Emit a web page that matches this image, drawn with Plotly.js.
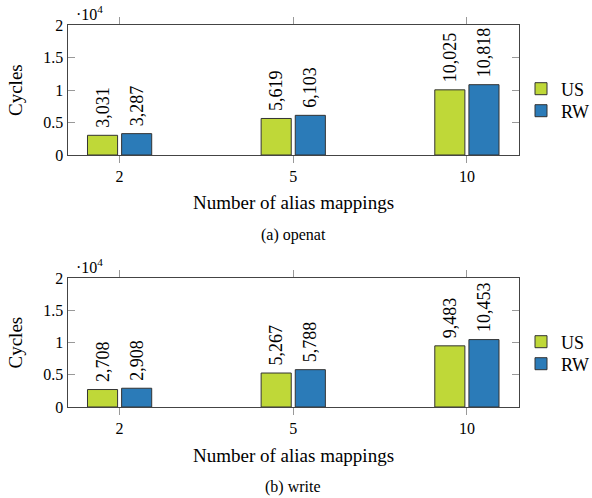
<!DOCTYPE html>
<html>
<head>
<meta charset="utf-8">
<script src="https://cdn.plot.ly/plotly-3.0.1.min.js"></script>
<style>html,body{margin:0;padding:0;background:#fff;}#chart{width:592px;height:498px;}</style>
</head>
<body>
<div id="chart"></div>
<script>
const categories = ['2', '5', '10'];
const openatUS = [3031, 5619, 10025];
const openatRW = [3287, 6103, 10818];
const writeUS = [2708, 5267, 9483];
const writeRW = [2908, 5788, 10453];
const seriesNames = ['US', 'RW'];
const yTickVals = [0, 5000, 10000, 15000, 20000];
const yTickText = ['0', '0.5', '1', '1.5', '2'];
const captions = ['(a) openat', '(b) write'];

const FONT = 'Liberation Serif';
const green = '#bfd838';
const blue = '#2b7bb8';

function barTrace(x, y, name, color, xa, ya, leg) {
  return {
    type: 'bar', x: x, y: y, name: name, xaxis: xa, yaxis: ya, legend: leg,
    showlegend: true,
    marker: {color: color, line: {color: '#333', width: 1}},
    text: y.map(v => '\u00a0' + v.toLocaleString('en-US')),
    textposition: 'outside', textangle: -90, constraintext: 'none',
    cliponaxis: false,
    textfont: {family: FONT, size: 18, color: '#000'},
    hoverinfo: 'skip'
  };
}

const data = [
  barTrace(categories, openatUS, seriesNames[0], green, 'x', 'y', 'legend'),
  barTrace(categories, openatRW, seriesNames[1], blue, 'x', 'y', 'legend2'),
  barTrace(categories, writeUS, seriesNames[0], green, 'x2', 'y2', 'legend3'),
  barTrace(categories, writeRW, seriesNames[1], blue, 'x2', 'y2', 'legend4')
];

const xdom = [67.5/592, 519/592];
const topDom = [1 - 155/498, 1 - 25/498];
const botDom = [1 - 407/498, 1 - 278/498];

function xaxis(anchor) {
  return {
    domain: xdom, anchor: anchor, type: 'category', categoryorder: 'array', categoryarray: categories,
    range: [-0.3, 2.3], autorange: false, showline: true, linecolor: '#444', linewidth: 1, mirror: 'ticks',
    ticks: 'outside', ticklen: 7, tickcolor: '#999', tickwidth: 1,
    tickfont: {family: FONT, size: 16, color: '#000'}, showgrid: false, zeroline: false, fixedrange: true
  };
}
function yaxis(anchor, dom) {
  return {
    domain: dom, anchor: anchor, range: [0, 20000], autorange: false, tickvals: yTickVals, ticktext: yTickText,
    showline: true, linecolor: '#444', linewidth: 1, mirror: 'ticks',
    ticks: 'inside', ticklen: 7, tickcolor: '#999', tickwidth: 1,
    tickfont: {family: FONT, size: 16, color: '#000'}, showgrid: false, zeroline: false, fixedrange: true
  };
}

function legend(yPx) {
  return {
    visible: true,
    x: 521/592, y: 1 - yPx/498, xanchor: 'left', yanchor: 'middle', bgcolor: 'rgba(0,0,0,0)',
    font: {family: FONT, size: 18, color: '#000'}, itemwidth: 30, tracegroupgap: 0
  };
}

const annotations = [];
[[topDom, captions[0]], [botDom, captions[1]]].forEach(([dom, cap]) => {
  const topPx = (1 - dom[1]) * 498;
  const botPx = (1 - dom[0]) * 498;
  annotations.push({xref: 'paper', yref: 'paper', x: 74/592, y: 1 - (topPx - 12)/498, text: '·10<sup>4</sup>', showarrow: false,
    xanchor: 'left', yanchor: 'middle', font: {family: FONT, size: 16, color: '#000'}});
  annotations.push({xref: 'paper', yref: 'paper', x: 15/592, y: (dom[0] + dom[1]) / 2, text: 'Cycles', textangle: -90, showarrow: false,
    xanchor: 'center', yanchor: 'middle', font: {family: FONT, size: 19, color: '#000'}});
  annotations.push({xref: 'paper', yref: 'paper', x: (xdom[0] + xdom[1]) / 2, y: 1 - (botPx + 48)/498, text: 'Number of alias mappings', showarrow: false,
    xanchor: 'center', yanchor: 'middle', font: {family: FONT, size: 19, color: '#000'}});
  annotations.push({xref: 'paper', yref: 'paper', x: (xdom[0] + xdom[1]) / 2, y: 1 - (botPx + 80)/498, text: cap, showarrow: false,
    xanchor: 'center', yanchor: 'middle', font: {family: FONT, size: 16, color: '#000'}});
});

const layout = {
  width: 592, height: 498, margin: {l: 0, r: 0, t: 0, b: 0, autoexpand: false},
  paper_bgcolor: '#fff', plot_bgcolor: '#fff',
  showlegend: true,
  barmode: 'group', bargap: 0.607, bargroupgap: 0.118,
  xaxis: xaxis('y'), yaxis: yaxis('x', topDom),
  xaxis2: xaxis('y2'), yaxis2: yaxis('x2', botDom),
  legend: legend(89), legend2: legend(111), legend3: legend(342), legend4: legend(364),
  annotations: annotations,
  font: {family: FONT}
};

Plotly.newPlot('chart', data, layout, {displayModeBar: false, staticPlot: true});
</script>
</body>
</html>
